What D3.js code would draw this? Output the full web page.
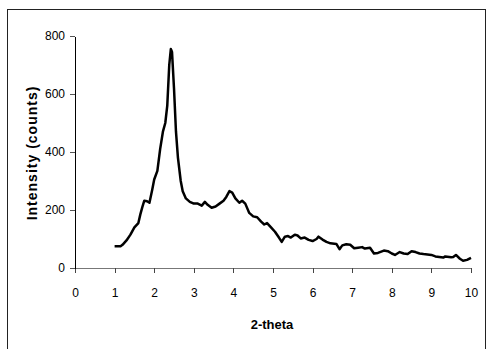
<!DOCTYPE html>
<html>
<head>
  <meta charset="utf-8">
  <title>2-theta scan</title>
  <script src="https://d3js.org/d3.v7.min.js"></script>
  <style>
    body { margin: 0; background: #fff; }
    text { font-family: 'Liberation Sans', Arial, sans-serif; }
    .axis text { fill: #000; font-size: 12px; }
    .axis path, .axis line { shape-rendering: crispEdges; }
  </style>
</head>
<body>
  <div id="chart"></div>
  <script>
    // scan
    const theta = [1.0, 1.15, 1.2, 1.3, 1.4, 1.5, 1.6, 1.65, 1.7, 1.75, 1.82, 1.88, 1.95, 2.0, 2.08, 2.15, 2.22, 2.28, 2.33, 2.38, 2.42, 2.45, 2.5, 2.55, 2.6, 2.67, 2.72, 2.8, 2.9, 3.0, 3.1, 3.2, 3.28, 3.35, 3.45, 3.55, 3.65, 3.75, 3.82, 3.9, 3.97, 4.05, 4.15, 4.22, 4.3, 4.4, 4.5, 4.6, 4.7, 4.78, 4.85, 4.95, 5.05, 5.15, 5.22, 5.3, 5.38, 5.45, 5.55, 5.62, 5.7, 5.8, 5.9, 6.0, 6.1, 6.15, 6.25, 6.35, 6.45, 6.6, 6.68, 6.75, 6.85, 6.95, 7.05, 7.15, 7.25, 7.32, 7.45, 7.55, 7.65, 7.8, 7.9, 8.0, 8.08, 8.2, 8.3, 8.4, 8.5, 8.6, 8.7, 8.8, 9.0, 9.1, 9.2, 9.3, 9.35, 9.5, 9.55, 9.62, 9.72, 9.8, 9.9, 10.0];
    const counts = [75, 75, 80, 95, 115, 140, 155, 185, 210, 232, 230, 225, 270, 305, 335, 410, 470, 500, 560, 700, 755, 745, 620, 470, 380, 300, 265, 240, 228, 222, 222, 215, 228, 218, 208, 212, 222, 232, 245, 265, 260, 240, 225, 232, 222, 190, 178, 175, 160, 150, 155, 140, 125, 105, 90, 108, 110, 105, 115, 112, 102, 105, 97, 93, 100, 108, 98, 90, 85, 83, 65, 78, 82, 80, 68, 70, 72, 67, 70, 50, 52, 60, 58, 50, 45, 55, 50, 48, 58, 55, 50, 48, 45, 40, 38, 36, 40, 37, 38, 45, 32, 25, 28, 35];
    const xTicks = [0, 1, 2, 3, 4, 5, 6, 7, 8, 9, 10];
    const yTicks = [0, 200, 400, 600, 800];

    const W = 487, H = 349;
    const margin = { top: 36, right: 16, bottom: 81, left: 75 };
    const width = W - margin.left - margin.right,
      height = H - margin.top - margin.bottom;

    const svg = d3.select("#chart")
      .append("svg")
      .attr("width", W)
      .attr("height", H);

    // frame around the whole chart
    svg.append("rect")
      .attr("x", 7.5)
      .attr("y", 9.5)
      .attr("width", 478)
      .attr("height", 360)
      .attr("fill", "none")
      .attr("stroke", "#222")
      .attr("stroke-width", 1);

    const g = svg.append("g")
      .attr("transform", "translate(" + margin.left + "," + margin.top + ")");

    const x = d3.scaleLinear().domain([0, 10]).range([0, width]);
    const y = d3.scaleLinear().domain([0, 800]).range([height, 0]);

    // x axis (grey)
    const xAxis = g.append("g")
      .attr("class", "axis")
      .attr("transform", "translate(0," + height + ")")
      .call(d3.axisBottom(x).tickValues(xTicks).tickSize(5).tickSizeOuter(0).tickPadding(15));
    xAxis.select(".domain").attr("stroke", "#777");
    xAxis.selectAll(".tick line").attr("stroke", "#444");

    // y axis
    const yAxis = g.append("g")
      .attr("class", "axis")
      .call(d3.axisLeft(y).tickValues(yTicks).tickSize(5).tickSizeOuter(0).tickPadding(5));
    yAxis.select(".domain").attr("stroke", "#000");
    yAxis.selectAll(".tick line").attr("stroke", "#555");

    const pts = theta.map((t, i) => [t, counts[i]]);

    g.append("path")
      .datum(pts)
      .attr("fill", "none")
      .attr("stroke", "#000")
      .attr("stroke-width", 2.5)
      .attr("stroke-linejoin", "round")
      .attr("d", d3.line().x(d => x(d[0])).y(d => y(d[1])).curve(d3.curveLinear));

    // axis titles
    svg.append("text")
      .attr("x", 272)
      .attr("y", 329)
      .attr("text-anchor", "middle")
      .style("font-size", "13px")
      .style("font-weight", "bold")
      .text("2-theta");

    svg.append("text")
      .attr("transform", "translate(37,153) rotate(-90)")
      .attr("text-anchor", "middle")
      .style("font-size", "14px")
      .style("font-weight", "bold")
      .style("letter-spacing", "1px")
      .text("Intensity (counts)");
  </script>
</body>
</html>
